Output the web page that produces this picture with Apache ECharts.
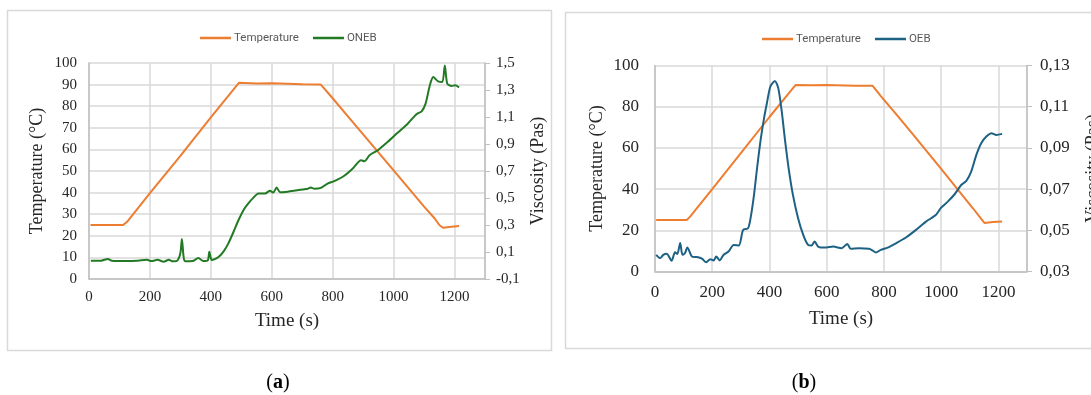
<!DOCTYPE html>
<html>
<head>
<meta charset="utf-8">
<script src="https://cdn.jsdelivr.net/npm/echarts@6/dist/echarts.min.js"></script>
<style>
html,body{margin:0;padding:0;background:#fff;}
#c{width:1091px;height:395px;}
</style>
</head>
<body>
<div id="c"></div>
<script>
// ---------- Data ----------
// Chart (a): Temperature
var timeTempA = [5,112,125,200,300,400,470,492,550,600,700,761,790,850,900,1000,1100,1135,1150,1162,1190,1215];
var tempA     = [25,25,26.5,39.8,57,74.8,87,90.8,90.5,90.6,90.2,90,85.3,75.3,67,50.3,33.5,28,25,23.7,24.2,24.5];
// Chart (a): ONEB viscosity (Pa·s)
var timeViscA = [6,40,62,75,120,160,190,205,225,245,262,275,290,300,305,310,315,340,359,375,390,395,403,425,442,458,475,491,507,523,540,556,578,594,605,616,627,644,684,715,728,740,761,783,805,838,866,893,904,921,948,981,1014,1047,1075,1092,1105,1119,1130,1146,1160,1168,1176,1190,1203,1215];
var viscA     = [0.035,0.036,0.049,0.036,0.033,0.036,0.042,0.033,0.042,0.028,0.042,0.031,0.036,0.092,0.196,0.076,0.031,0.033,0.055,0.033,0.038,0.102,0.041,0.063,0.105,0.166,0.252,0.337,0.410,0.460,0.503,0.534,0.534,0.553,0.540,0.577,0.543,0.545,0.558,0.566,0.578,0.569,0.575,0.607,0.625,0.665,0.719,0.780,0.772,0.817,0.854,0.916,0.985,1.052,1.121,1.142,1.199,1.335,1.396,1.364,1.359,1.482,1.348,1.330,1.335,1.318];
// Chart (b): Temperature
var timeTempB = [4,111,122,200,300,400,470,491,550,600,700,760,790,850,900,1000,1111,1140,1152,1180,1213];
var tempB     = [25,25,26.5,40,57.5,75,87,90.5,90.4,90.5,90.2,90.2,85,75.2,66.8,49.8,30.7,25.5,23.5,24,24.3];
// Chart (b): OEB viscosity (Pa·s)
var timeViscB = [4,18,29,41,58,70,78,88,96,105,113,129,146,164,179,193,205,214,226,240,257,275,293,308,325,334,346,358,370,382,391,403,419,431,443,455,467,482,500,518,535,547,558,570,594,623,652,672,684,713,748,760,772,789,813,842,877,912,947,982,1000,1023,1047,1070,1088,1105,1123,1140,1158,1176,1193,1213];
var viscB     = [0.0381,0.0365,0.0381,0.0386,0.0352,0.0394,0.0385,0.0438,0.0381,0.0390,0.0417,0.0373,0.0370,0.0362,0.0345,0.0360,0.0354,0.0373,0.0354,0.0381,0.0397,0.0429,0.0426,0.0502,0.0510,0.0559,0.0672,0.0817,0.0947,0.1052,0.1117,0.1197,0.1225,0.1189,0.1076,0.0930,0.0801,0.0672,0.0559,0.0478,0.0429,0.0426,0.0446,0.0421,0.0416,0.0421,0.0413,0.0434,0.0410,0.0413,0.0410,0.0402,0.0392,0.0405,0.0416,0.0437,0.0465,0.0502,0.0542,0.0575,0.0610,0.0639,0.0675,0.0720,0.0740,0.0785,0.0866,0.0923,0.0955,0.0971,0.0963,0.0968];
// Tick labels
var viscTicksA = [-0.1, 0.1, 0.3, 0.5, 0.7, 0.9, 1.1, 1.3, 1.5];
var viscTicksB = [0.03, 0.05, 0.07, 0.09, 0.11, 0.13];

function zip(xs, ys){ return xs.map(function(x,i){ return [x, ys[i]]; }); }

var ORANGE = '#ED7D31', GREEN = '#237A25', BLUE = '#1D6184';
var GRID = '#d9d9d9', AXIS = '#bfbfbf', TXT = '#262626';
var SERIF = '"Liberation Serif", "Times New Roman", serif';

function xAxisCfg(gi, fs, margin, nameGap){
  return {
    type:'value', gridIndex:gi, min:0, max:1300, interval:200,
    name:'Time (s)', nameLocation:'middle', nameGap:nameGap,
    nameTextStyle:{fontFamily:SERIF, fontSize:19, color:TXT},
    axisLine:{show:true, lineStyle:{color:AXIS, width:1.5}},
    axisTick:{show:false},
    axisLabel:{fontFamily:SERIF, fontSize:fs, color:TXT, margin:margin,
      formatter:function(v){ return v > 1200 ? '' : String(v); }},
    splitLine:{show:true, lineStyle:{color:GRID, width:1.5}}
  };
}
function tempAxisCfg(gi, interval, fs, margin, nameGap){
  return {
    type:'value', gridIndex:gi, position:'left', min:0, max:100, interval:interval,
    name:'Temperature (°C)', nameLocation:'middle', nameGap:nameGap,
    nameTextStyle:{fontFamily:SERIF, fontSize:18, color:TXT},
    axisLine:{show:true, lineStyle:{color:AXIS, width:1.5}},
    axisTick:{show:false},
    axisLabel:{fontFamily:SERIF, fontSize:fs, color:TXT, margin:margin},
    splitLine:{show:true, lineStyle:{color:GRID, width:1.5}}
  };
}
function viscAxisCfg(gi, min, max, ticks, dec, fs, margin, nameGap){
  return {
    type:'value', gridIndex:gi, position:'right', min:min, max:max,
    name:'Viscosity (Pas)', nameLocation:'middle', nameGap:nameGap,
    nameTextStyle:{fontFamily:SERIF, fontSize:18, color:TXT},
    axisLine:{show:true, lineStyle:{color:AXIS, width:1.5}},
    axisTick:{show:true, inside:false, length:5, customValues:ticks, lineStyle:{color:AXIS}},
    axisLabel:{fontFamily:SERIF, fontSize:fs, color:TXT, margin:margin, customValues:ticks,
      formatter:function(v){ return v.toFixed(dec).replace('.', ','); }},
    splitLine:{show:false}
  };
}
function lineSeries(name, xi, yi, data, color, smooth){
  return {type:'line', name:name, xAxisIndex:xi, yAxisIndex:yi, data:data,
    symbol:'none', showSymbol:false, smooth:smooth, animation:false,
    lineStyle:{color:color, width:2}, itemStyle:{color:color}};
}
function legendCfg(left, top, names){
  return {left:left, top:top, icon:'rect', itemWidth:31, itemHeight:2.5, itemGap:14,
    textStyle:{fontFamily:'Roboto, sans-serif', fontSize:11.5, color:'#595959', padding:[0,0,0,-2]},
    data:names};
}

var chart = echarts.init(document.getElementById('c'), null, {renderer:'canvas'});
chart.setOption({
  backgroundColor:'#ffffff',
  animation:false,
  legend:[
    legendCfg(195, 27, ['Temperature','ONEB']),
    legendCfg(757, 28, ['Temperature','OEB'])
  ],
  grid:[
    {left:89, top:63, width:396, height:216, outerBoundsMode:'none', containLabel:false},
    {left:655, top:65.5, width:372, height:206, outerBoundsMode:'none', containLabel:false}
  ],
  xAxis:[ xAxisCfg(0, 15, 11, 33), xAxisCfg(1, 17, 13, 38) ],
  yAxis:[
    tempAxisCfg(0, 10, 15, 12, 43),
    viscAxisCfg(0, -0.1, 1.5, viscTicksA, 1, 15, 11, 44),
    tempAxisCfg(1, 20, 17, 16, 49),
    viscAxisCfg(1, 0.03, 0.13, viscTicksB, 2, 17, 13, 57)
  ],
  series:[
    lineSeries('Temperature', 0, 0, zip(timeTempA, tempA), ORANGE, false),
    lineSeries('ONEB', 0, 1, zip(timeViscA, viscA), GREEN, 0.25),
    lineSeries('Temperature', 1, 2, zip(timeTempB, tempB), ORANGE, false),
    lineSeries('OEB', 1, 3, zip(timeViscB, viscB), BLUE, 0.25)
  ],
  graphic:[
    {type:'rect', silent:true, z:-1, shape:{x:7.5, y:10.5, width:544, height:340},
     style:{fill:null, stroke:'#d9d9d9', lineWidth:1.5}},
    {type:'rect', silent:true, z:-1, shape:{x:565.5, y:12.5, width:540, height:336},
     style:{fill:null, stroke:'#d9d9d9', lineWidth:1.5}},
    {type:'text', x:278, y:383, style:{text:'{p|(}{b|a}{p|)}', align:'center', verticalAlign:'middle',
      rich:{p:{fontFamily:SERIF, fontSize:20, fill:'#000'}, b:{fontFamily:SERIF, fontSize:20, fontWeight:'bold', fill:'#000'}}}},
    {type:'text', x:804, y:383, style:{text:'{p|(}{b|b}{p|)}', align:'center', verticalAlign:'middle',
      rich:{p:{fontFamily:SERIF, fontSize:20, fill:'#000'}, b:{fontFamily:SERIF, fontSize:20, fontWeight:'bold', fill:'#000'}}}}
  ]
});
</script>
</body>
</html>
